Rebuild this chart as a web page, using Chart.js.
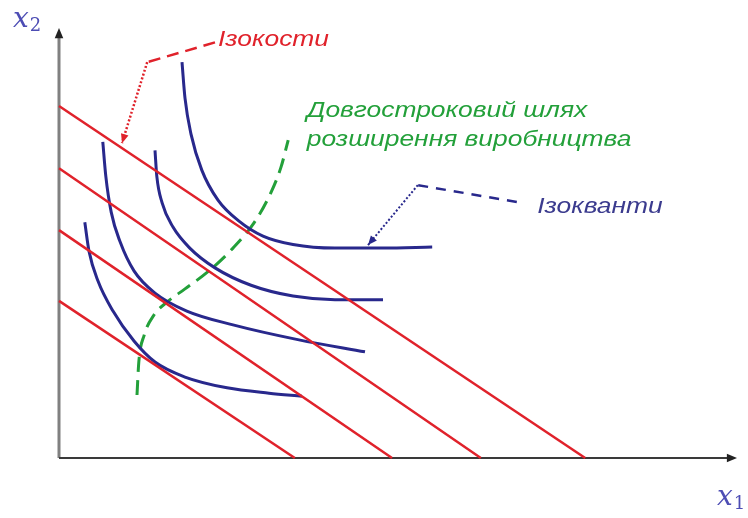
<!DOCTYPE html>
<html>
<head>
<meta charset="utf-8">
<script src="https://cdn.jsdelivr.net/npm/chart.js@4.4.1/dist/chart.umd.min.js"></script>
<style>
  body { margin: 0; background: #fff; }
</style>
</head>
<body>
<canvas id="grafica" width="748" height="518"></canvas>
<script>
// izokosty: peretyn z osyamy (x2 pry x1=0, x1 pry x2=0)
const isocostY0 = [5.87, 4.83, 3.80, 2.62];
const isocostX0 = [8.77, 7.03, 5.55, 3.93];

// izokvanty, tochky [x1, x2]
const isoquant1 = [[0.43, 3.93], [0.5, 3.45], [0.65, 2.95], [0.9, 2.45], [1.25, 1.95], [1.6, 1.6], [2.1, 1.35], [2.8, 1.17], [3.5, 1.08], [4.05, 1.03]];
const isoquant2 = [[0.73, 5.27], [0.78, 4.7], [0.87, 4.1], [1.02, 3.6], [1.25, 3.12], [1.6, 2.75], [2.13, 2.45], [2.9, 2.22], [4.0, 1.97], [5.1, 1.77]];
const isoquant3 = [[1.6, 5.13], [1.63, 4.7], [1.72, 4.25], [1.9, 3.85], [2.18, 3.5], [2.6, 3.17], [3.2, 2.88], [3.9, 2.7], [4.6, 2.64], [5.4, 2.64]];
const isoquant4 = [[2.05, 6.6], [2.1, 6.0], [2.2, 5.4], [2.38, 4.8], [2.65, 4.3], [3.0, 3.95], [3.4, 3.7], [3.9, 3.56], [4.6, 3.5], [5.4, 3.5], [6.22, 3.52]];

// dovgostrokovyi shlyakh rozshyrennya
const expansionPath = [[1.3, 1.05], [1.33, 1.6], [1.42, 2.05], [1.58, 2.38], [1.8, 2.6], [2.1, 2.82], [2.5, 3.12], [2.9, 3.5], [3.25, 3.92], [3.52, 4.4], [3.7, 4.85], [3.82, 5.3]];

// vynosky do pidpysiv
const isocostLeaderDash = [[2.6, 6.93], [1.47, 6.6]];
const isocostLeaderDot = [[1.47, 6.6], [1.05, 5.25]];
const isoquantLeaderDash = [[7.63, 4.27], [5.98, 4.55]];
const isoquantLeaderDot = [[5.98, 4.55], [5.15, 3.55]];

const labelTexts = ['Ізокости', 'Довгостроковий шлях', 'розширення виробництва', 'Ізокванти'];
const axisNames = ['x', '1', 'x', '2'];

const rojo = '#e0222b';
const azul = '#28288c';
const verde = '#23a03a';

function toPoints(arr) {
  return arr.map(p => ({ x: p[0], y: p[1] }));
}

let datasets = [];
for (let i = 0; i < isocostY0.length; i++) {
  datasets.push({
    data: [{ x: 0, y: isocostY0[i] }, { x: isocostX0[i], y: 0 }],
    borderColor: rojo,
    borderWidth: 2.5
  });
}
[isoquant1, isoquant2, isoquant3, isoquant4].forEach(q => {
  datasets.push({ data: toPoints(q), borderColor: azul, borderWidth: 3, cubicInterpolationMode: 'monotone' });
});
datasets.push({ data: toPoints(expansionPath), borderColor: verde, borderWidth: 3, borderDash: [15, 8], cubicInterpolationMode: 'monotone' });
datasets.push({ data: toPoints(isocostLeaderDash), borderColor: rojo, borderWidth: 2.5, borderDash: [12, 7] });
datasets.push({ data: toPoints(isocostLeaderDot), borderColor: rojo, borderWidth: 2.5, borderDash: [2, 2], arrow: true });
datasets.push({ data: toPoints(isoquantLeaderDash), borderColor: azul, borderWidth: 2.5, borderDash: [10, 8] });
datasets.push({ data: toPoints(isoquantLeaderDot), borderColor: azul, borderWidth: 2, borderDash: [2, 2], arrow: true });

function drawHead(ctx, x1, y1, x2, y2, size, color) {
  const ang = Math.atan2(y2 - y1, x2 - x1);
  ctx.save();
  ctx.fillStyle = color;
  ctx.beginPath();
  ctx.moveTo(x2, y2);
  ctx.lineTo(x2 - size * Math.cos(ang - 0.4), y2 - size * Math.sin(ang - 0.4));
  ctx.lineTo(x2 - size * Math.cos(ang + 0.4), y2 - size * Math.sin(ang + 0.4));
  ctx.closePath();
  ctx.fill();
  ctx.restore();
}

const ejesPlugin = {
  id: 'ejes',
  beforeDatasetsDraw(chart) {
    const ctx = chart.ctx;
    const sx = chart.scales.x, sy = chart.scales.y;
    const x0 = sx.getPixelForValue(0), y0 = sy.getPixelForValue(0);
    const xEnd = sx.getPixelForValue(sx.max), yEnd = sy.getPixelForValue(sy.max);
    ctx.save();
    ctx.lineWidth = 3;
    ctx.strokeStyle = '#808080';
    ctx.beginPath();
    ctx.moveTo(x0, y0);
    ctx.lineTo(x0, yEnd + 6);
    ctx.stroke();
    drawHead(ctx, x0, y0, x0, yEnd, 11, '#222');
    ctx.lineWidth = 2;
    ctx.strokeStyle = '#3a3a3a';
    ctx.beginPath();
    ctx.moveTo(x0, y0);
    ctx.lineTo(xEnd - 6, y0);
    ctx.stroke();
    drawHead(ctx, x0, y0, xEnd, y0, 11, '#222');
    ctx.restore();
  },
  afterDatasetsDraw(chart) {
    const ctx = chart.ctx;
    chart.data.datasets.forEach((ds, i) => {
      if (!ds.arrow) return;
      const pts = chart.getDatasetMeta(i).data;
      const a = pts[pts.length - 2], b = pts[pts.length - 1];
      drawHead(ctx, a.x, a.y, b.x, b.y, 10, ds.borderColor);
    });
  }
};

const textosPlugin = {
  id: 'textos',
  afterDraw(chart) {
    const ctx = chart.ctx;
    const sx = chart.scales.x, sy = chart.scales.y;
    const etiquetas = [
      { t: labelTexts[0], x: 2.65, y: 6.97, c: rojo },
      { t: labelTexts[1], x: 4.13, y: 5.78, c: verde },
      { t: labelTexts[2], x: 4.13, y: 5.3, c: verde },
      { t: labelTexts[3], x: 7.97, y: 4.18, c: '#3b3b8e' }
    ];
    ctx.save();
    ctx.textBaseline = 'middle';
    ctx.font = 'italic 22px "Liberation Sans", Arial, sans-serif';
    etiquetas.forEach(e => {
      ctx.save();
      ctx.translate(sx.getPixelForValue(e.x), sy.getPixelForValue(e.y));
      ctx.scale(1.2, 1);
      ctx.fillStyle = e.c;
      ctx.fillText(e.t, 0, 0);
      ctx.restore();
    });
    // nazvy osei
    const ejes = [
      { x: sx.getPixelForValue(sx.max) - 20, y: sy.getPixelForValue(0) + 40, n: axisNames[0], s: axisNames[1] },
      { x: sx.getPixelForValue(0) - 46, y: sy.getPixelForValue(sy.max) - 8, n: axisNames[2], s: axisNames[3] }
    ];
    ctx.fillStyle = '#4d4db4';
    ejes.forEach(e => {
      ctx.font = 'italic 28px "DejaVu Serif", serif';
      ctx.fillText(e.n, e.x, e.y);
      const w = ctx.measureText(e.n).width;
      ctx.font = '18px "DejaVu Serif", serif';
      ctx.fillText(e.s, e.x + w + 1, e.y + 6);
    });
    ctx.restore();
  }
};

new Chart(document.getElementById('grafica'), {
  type: 'scatter',
  data: { datasets: datasets },
  options: {
    responsive: false,
    animation: false,
    layout: { padding: { left: 59, right: 11, top: 28, bottom: 60 } },
    datasets: { scatter: { showLine: true, pointRadius: 0, clip: false } },
    plugins: { legend: { display: false }, tooltip: { enabled: false } },
    scales: {
      x: { type: 'linear', display: false, min: 0, max: 11.3 },
      y: { type: 'linear', display: false, min: 0, max: 7.17 }
    }
  },
  plugins: [ejesPlugin, textosPlugin]
});
</script>
</body>
</html>
